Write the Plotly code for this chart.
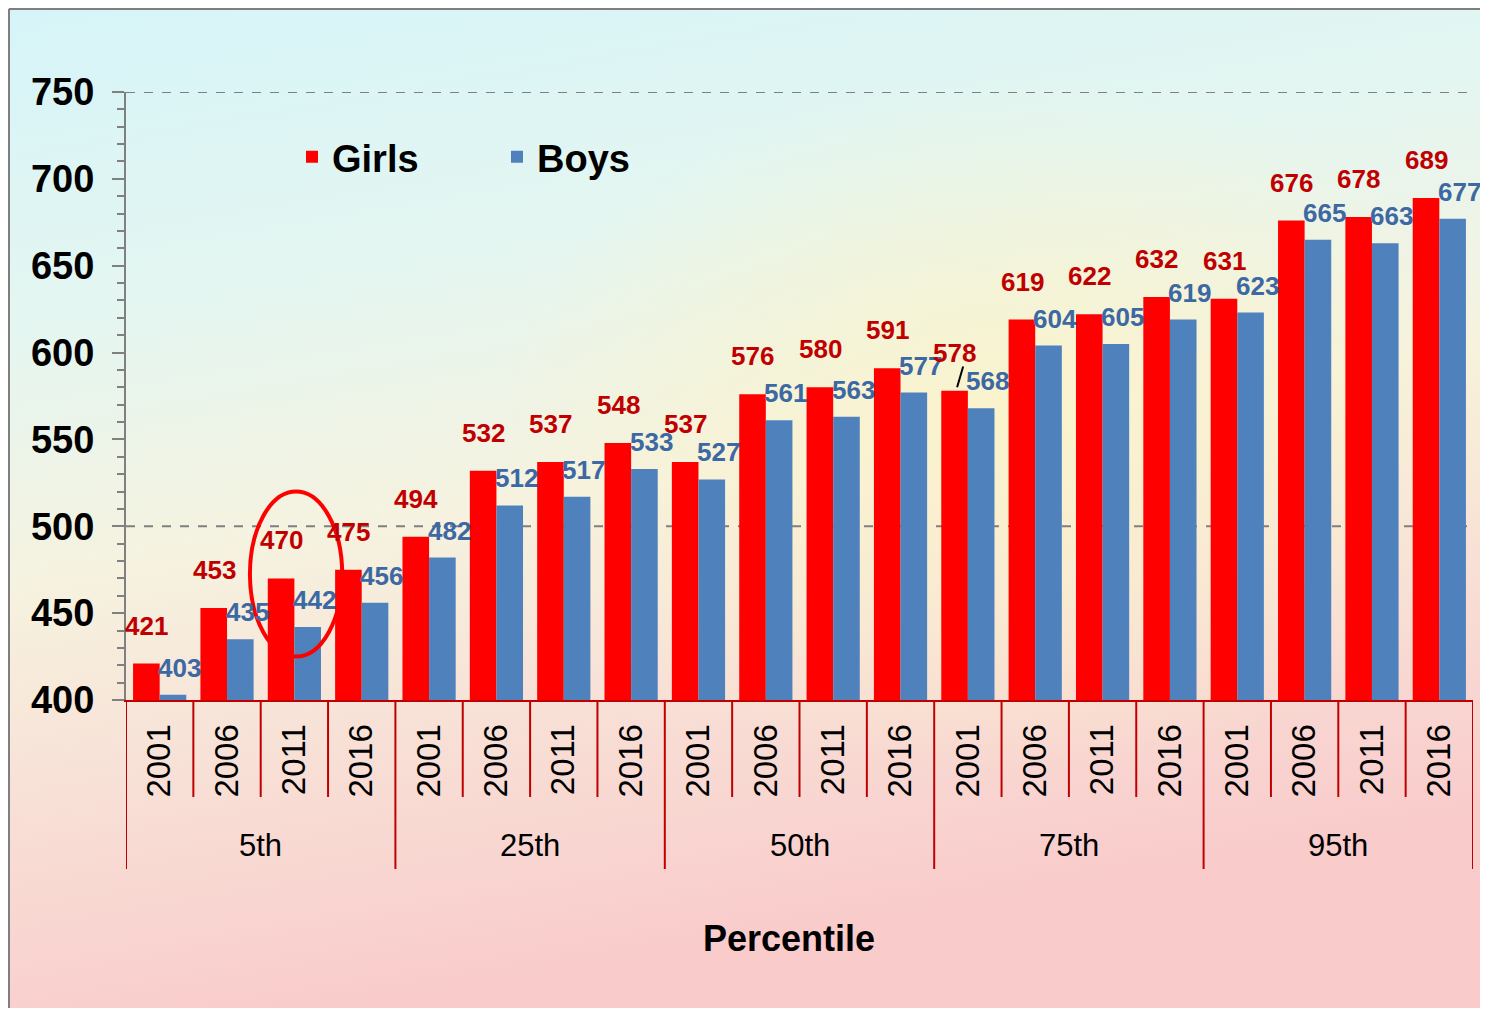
import base64
import plotly.graph_objects as go

# ---------------- data ----------------
percentiles = ["5th", "25th", "50th", "75th", "95th"]
years = ["2001", "2006", "2011", "2016"]
girls = [421, 453, 470, 475,
         494, 532, 537, 548,
         537, 576, 580, 591,
         578, 619, 622, 632,
         631, 676, 678, 689]
boys = [403, 435, 442, 456,
        482, 512, 517, 533,
        527, 561, 563, 577,
        568, 604, 605, 619,
        623, 665, 663, 677]
reference_lines = [500, 750]
y_range = [400, 750]

# ---------------- styles ----------------
FONT = "Liberation Sans, Arial, sans-serif"
RED = "#ff0000"
BLUE = "#4f81bd"
RED_TXT = "#c00000"
BLUE_TXT = "#3c68a3"
AXIS_RED = "#c00000"
GRAY = "#808080"

n = len(percentiles) * len(years)
xs = list(range(n))
year_labels = [years[i % len(years)] for i in xs]

OFF = 8                      # page body margin
W, H = 1480, 1000            # figure size
L, T = 126 - OFF, 92 - OFF   # plot area in figure pixels
PW, PH = 1347, 608
R, B = W - L - PW, H - T - PH


def px_x(p):                 # page pixel -> paper x
    return (p - OFF - L) / PW


def px_y(p):                 # page pixel -> paper y
    return (T + PH - (p - OFF)) / PH


fig = go.Figure()
fig.add_trace(go.Bar(x=xs, y=girls, name="Girls", marker=dict(color=RED, line=dict(width=0))))
fig.add_trace(go.Bar(x=xs, y=boys, name="Boys", marker=dict(color=BLUE, line=dict(width=0))))

annotations = []
for i in xs:
    annotations.append(dict(x=i, y=girls[i], xref="x", yref="y", text=str(girls[i]),
                            showarrow=False, xshift=-13, yshift=38, yanchor="middle",
                            font=dict(family=FONT, size=26, color=RED_TXT, weight="bold")))
    annotations.append(dict(x=i, y=boys[i], xref="x", yref="y", text=str(boys[i]),
                            showarrow=False, xshift=20, yshift=27, yanchor="middle",
                            font=dict(family=FONT, size=26, color=BLUE_TXT, weight="bold")))

ny = len(years)
for g, p in enumerate(percentiles):
    annotations.append(dict(x=g * ny + (ny - 1) / 2, y=px_y(845), xref="x", yref="paper",
                            text=p, showarrow=False, yanchor="middle",
                            font=dict(family=FONT, size=31, color="black")))
annotations.append(dict(x=px_x(789), y=px_y(938), xref="paper", yref="paper", text="Percentile",
                        showarrow=False, yanchor="middle",
                        font=dict(family=FONT, size=36, color="black", weight="bold")))

shapes = []
for v in reference_lines:
    shapes.append(dict(type="line", xref="paper", yref="y", x0=0, x1=1, y0=v, y1=v,
                       line=dict(color=GRAY, width=2, dash="dash"), layer="below"))
for b in range(n + 1):
    long_div = (b % ny == 0)
    shapes.append(dict(type="line", xref="x", yref="paper", x0=b - 0.5, x1=b - 0.5,
                       y0=0, y1=px_y(869 if long_div else 797),
                       line=dict(color=AXIS_RED, width=2)))
# highlight ellipse around 5th-2011
shapes.append(dict(type="circle", xref="x", yref="y", x0=1.34, x1=2.71, y0=425, y1=520,
                   line=dict(color=RED, width=4)))
# leader line for the 75th-2001 boys label
shapes.append(dict(type="line", xref="x", yref="y", x0=11.84, x1=11.93, y0=580, y1=592,
                   line=dict(color="black", width=2)))
# frame lines
shapes.append(dict(type="line", xref="paper", yref="paper", x0=px_x(OFF + 1), x1=px_x(OFF + W),
                   y0=px_y(OFF + 1), y1=px_y(OFF + 1), line=dict(color="#7f7f7f", width=2)))
shapes.append(dict(type="line", xref="paper", yref="paper", x0=px_x(OFF + 1), x1=px_x(OFF + 1),
                   y0=px_y(OFF + 1), y1=px_y(OFF + H), line=dict(color="#7f7f7f", width=2)))

svg = f"""<svg xmlns='http://www.w3.org/2000/svg' width='{W}' height='{H}' viewBox='0 0 {W} {H}' preserveAspectRatio='none'>
<defs>
<linearGradient id='g' x1='0' y1='0' x2='0.25' y2='1'>
<stop offset='0' stop-color='#d6f4f8'/>
<stop offset='0.3' stop-color='#e4f6f1'/>
<stop offset='0.55' stop-color='#f6f2df'/>
<stop offset='0.75' stop-color='#f8e0d6'/>
<stop offset='1' stop-color='#f9cbcb'/>
</linearGradient>
<radialGradient id='r' cx='0.68' cy='0.42' r='0.35'>
<stop offset='0' stop-color='#fbf3c8' stop-opacity='0.85'/>
<stop offset='1' stop-color='#fbf3c8' stop-opacity='0'/>
</radialGradient>
</defs>
<rect width='{W}' height='{H}' fill='url(#g)'/>
<rect width='{W}' height='{H}' fill='url(#r)'/>
</svg>"""
src = "data:image/svg+xml;base64," + base64.b64encode(svg.encode()).decode()

fig.update_layout(
    width=W, height=H,
    margin=dict(l=L, r=R, t=T, b=B, autoexpand=False),
    paper_bgcolor="#f3efe4",
    plot_bgcolor="rgba(0,0,0,0)",
    barmode="group", bargap=0.21, bargroupgap=0,
    showlegend=True,
    legend=dict(orientation="h", x=px_x(292), y=px_y(157), xanchor="left", yanchor="middle",
                bgcolor="rgba(0,0,0,0)", entrywidth=160, entrywidthmode="pixels",
                font=dict(family=FONT, size=38, color="black", weight="bold")),
    annotations=annotations,
    shapes=shapes,
    images=[dict(source=src, xref="paper", yref="paper", x=px_x(OFF), y=px_y(OFF),
                 sizex=W / PW, sizey=H / PH, xanchor="left", yanchor="top",
                 sizing="stretch", layer="below")],
    xaxis=dict(range=[-0.5, n - 0.5], tickmode="array", tickvals=xs, ticktext=year_labels,
               tickangle=-90, ticks="", showgrid=False, zeroline=False,
               showline=True, linecolor=AXIS_RED, linewidth=2, ticklabelstandoff=9,
               tickfont=dict(family=FONT, size=33, color="black"), fixedrange=True),
    yaxis=dict(range=y_range, dtick=50, tick0=400, ticks="outside", ticklen=12, tickwidth=2,
               tickcolor=GRAY, showline=True, linecolor=GRAY, linewidth=2, showgrid=False,
               zeroline=False, ticklabelstandoff=10,
               minor=dict(dtick=10, ticks="outside", ticklen=7, tickwidth=2, tickcolor=GRAY, showgrid=False),
               tickfont=dict(family=FONT, size=38, color="black", weight="bold"), fixedrange=True),
)

fig.write_html("out.html")
